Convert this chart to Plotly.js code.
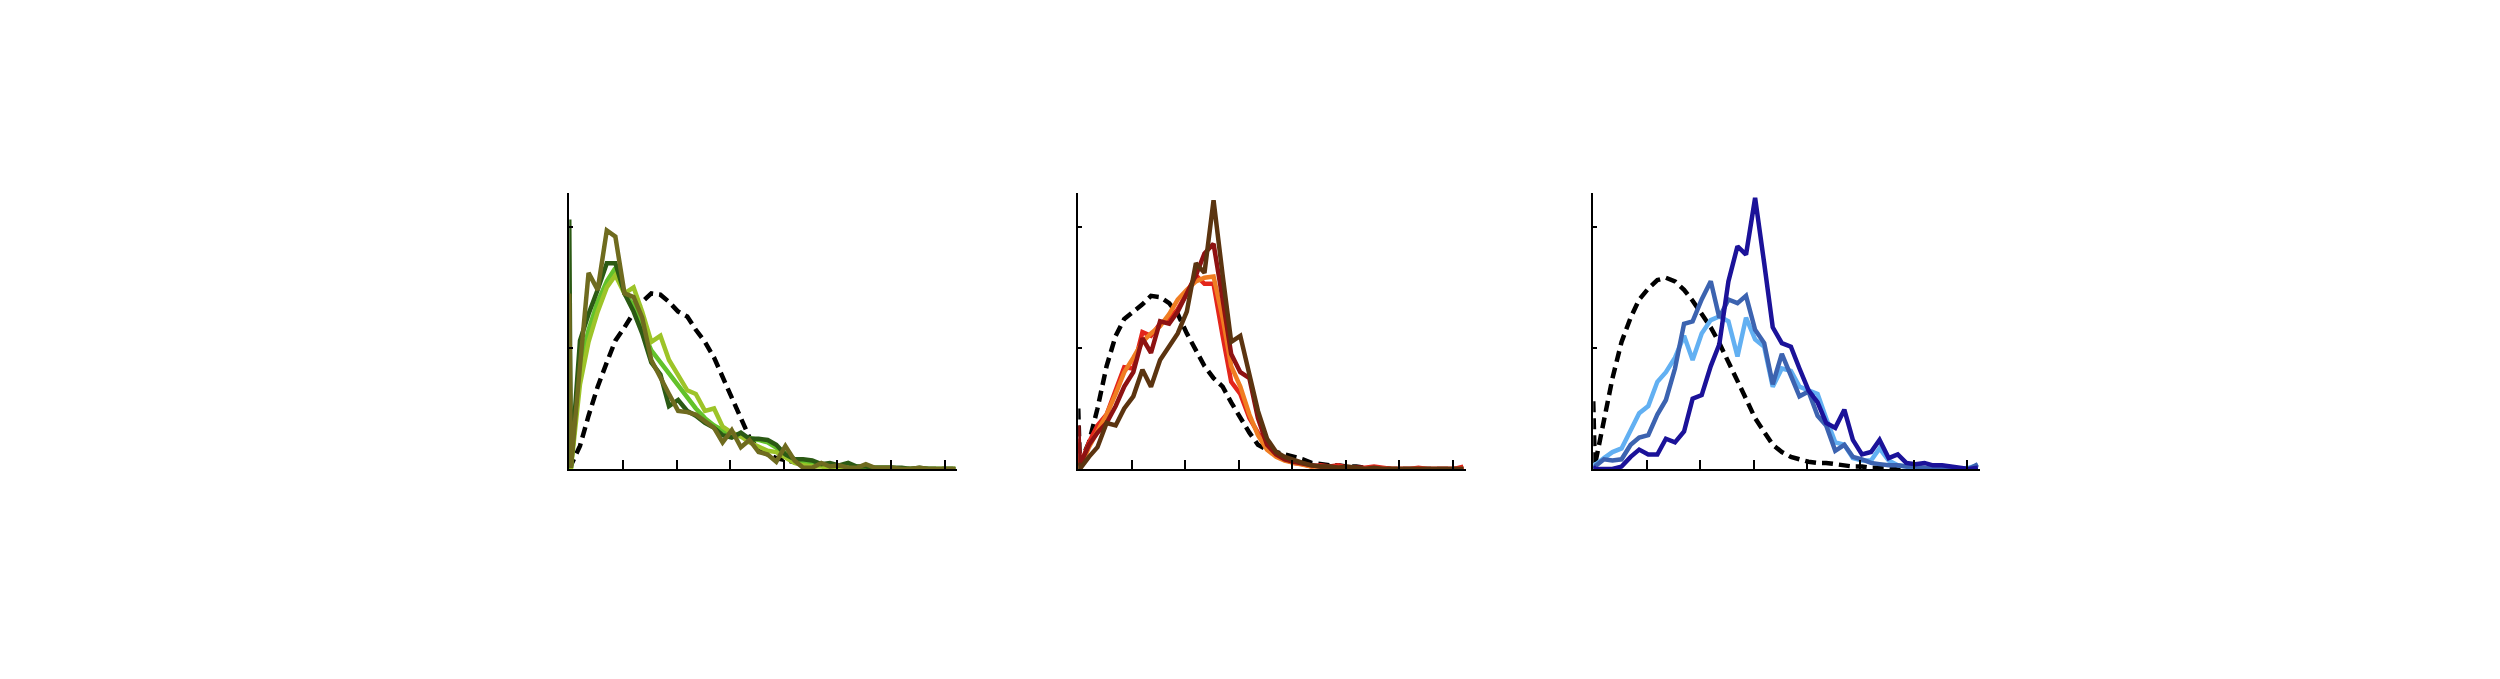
<!DOCTYPE html>
<html>
<head>
<meta charset="utf-8">
<script src="https://cdn.plot.ly/plotly-3.0.1.min.js"></script>
<style>
html,body{margin:0;padding:0;background:#fff;}
#chart{width:2500px;height:679px;}
</style>
</head>
<body>
<div id="chart"></div>
<script>
// Bin positions (shared by all panels), in tick units
const xBins = [0, 0.03, 0.20, 0.36, 0.53, 0.70, 0.86, 1.03, 1.20, 1.36, 1.53, 1.70, 1.86, 2.03, 2.20, 2.36, 2.53, 2.70, 2.86, 3.03, 3.20, 3.36, 3.53, 3.70, 3.86, 4.03, 4.20, 4.36, 4.53, 4.70, 4.86, 5.03, 5.20, 5.36, 5.53, 5.70, 5.86, 6.03, 6.20, 6.36, 6.53, 6.70, 6.86, 7.03, 7.20];

// Panel 1 (greens)
const p1Reference = [0.0, 0.03, 0.19, 0.44, 0.68, 0.88, 1.06, 1.17, 1.29, 1.38, 1.45, 1.44, 1.38, 1.30, 1.26, 1.15, 1.05, 0.92, 0.76, 0.61, 0.42, 0.26, 0.17, 0.12, 0.09, 0.07, 0.05, 0.04, 0.03, 0.02, 0.02, 0.01, 0.01, 0, 0, 0, 0, 0, 0, 0, 0, 0, 0, 0, 0];
const p1BrightGreen = [1.0, 0.0, 0.85, 1.15, 1.38, 1.55, 1.66, 1.45, 1.35, 1.15, 0.98, 0.88, 0.78, 0.68, 0.58, 0.50, 0.42, 0.36, 0.32, 0.28, 0.27, 0.26, 0.24, 0.22, 0.18, 0.13, 0.08, 0.05, 0.04, 0.03, 0.03, 0.02, 0.02, 0.02, 0.01, 0.01, 0.01, 0.01, 0, 0, 0, 0, 0, 0, 0];
const p1YellowGreen = [0.8, 0.0, 0.70, 1.05, 1.30, 1.50, 1.60, 1.45, 1.50, 1.30, 1.05, 1.10, 0.90, 0.78, 0.65, 0.62, 0.48, 0.50, 0.35, 0.30, 0.27, 0.22, 0.18, 0.15, 0.14, 0.10, 0.05, 0.03, 0.02, 0.02, 0.01, 0.02, 0.01, 0.01, 0.01, 0, 0, 0, 0, 0, 0, 0, 0, 0, 0];
const p1DarkGreen = [2.06, 0.01, 1.06, 1.28, 1.48, 1.70, 1.70, 1.45, 1.30, 1.12, 0.88, 0.78, 0.52, 0.57, 0.48, 0.44, 0.38, 0.34, 0.28, 0.26, 0.30, 0.25, 0.25, 0.24, 0.20, 0.12, 0.08, 0.08, 0.07, 0.04, 0.05, 0.03, 0.05, 0.02, 0.02, 0.01, 0.01, 0.01, 0.01, 0.00, 0.01, 0, 0, 0, 0];
const p1Olive = [1.45, 0.01, 0.85, 1.62, 1.48, 1.97, 1.92, 1.45, 1.42, 1.25, 0.90, 0.75, 0.62, 0.48, 0.47, 0.45, 0.40, 0.34, 0.22, 0.32, 0.18, 0.24, 0.14, 0.12, 0.06, 0.19, 0.07, 0.01, 0.01, 0.05, 0.02, 0.03, 0.01, 0.01, 0.04, 0.01, 0.01, 0.01, 0, 0, 0.01, 0, 0, 0, 0];

// Panel 2 (reds)
const p2Reference = [0.50, 0.05, 0.22, 0.50, 0.85, 1.10, 1.24, 1.30, 1.36, 1.43, 1.42, 1.37, 1.28, 1.12, 0.98, 0.85, 0.75, 0.68, 0.55, 0.42, 0.30, 0.20, 0.16, 0.14, 0.12, 0.10, 0.08, 0.05, 0.04, 0.03, 0.03, 0.02, 0.02, 0.01, 0.01, 0.01, 0, 0, 0, 0, 0, 0, 0, 0, 0];
const p2Red = [0.25, 0.02, 0.22, 0.36, 0.45, 0.65, 0.84, 0.83, 1.13, 1.10, 1.20, 1.24, 1.32, 1.45, 1.60, 1.53, 1.53, 1.10, 0.72, 0.62, 0.42, 0.30, 0.18, 0.12, 0.08, 0.05, 0.04, 0.02, 0.03, 0.02, 0.03, 0.01, 0.01, 0.01, 0.02, 0.01, 0, 0, 0, 0.01, 0, 0, 0, 0, 0.02];
const p2Orange = [0.10, 0.0, 0.18, 0.32, 0.45, 0.62, 0.80, 0.92, 1.05, 1.12, 1.18, 1.28, 1.40, 1.48, 1.55, 1.58, 1.59, 1.25, 0.85, 0.68, 0.45, 0.28, 0.16, 0.10, 0.07, 0.05, 0.03, 0.02, 0.02, 0.01, 0.01, 0.01, 0, 0, 0, 0, 0, 0, 0, 0, 0, 0, 0, 0, 0];
const p2DarkRed = [0.36, 0.03, 0.20, 0.30, 0.38, 0.52, 0.68, 0.80, 1.08, 0.96, 1.22, 1.20, 1.30, 1.45, 1.60, 1.78, 1.86, 1.40, 0.95, 0.80, 0.75, 0.42, 0.20, 0.12, 0.08, 0.06, 0.04, 0.03, 0.02, 0.02, 0.01, 0.01, 0.01, 0, 0, 0, 0, 0, 0, 0, 0, 0, 0, 0, 0];
const p2Brown = [0.05, 0.0, 0.10, 0.18, 0.38, 0.36, 0.50, 0.60, 0.82, 0.68, 0.90, 1.02, 1.12, 1.30, 1.70, 1.62, 2.22, 1.60, 1.05, 1.10, 0.78, 0.48, 0.25, 0.14, 0.10, 0.07, 0.05, 0.03, 0.02, 0.02, 0.01, 0.02, 0.01, 0, 0.01, 0, 0, 0, 0, 0, 0, 0, 0, 0, 0];

// Panel 3 (blues)
const p3Reference = [0.56, 0.03, 0.40, 0.75, 1.05, 1.25, 1.40, 1.49, 1.56, 1.58, 1.55, 1.48, 1.39, 1.28, 1.17, 1.04, 0.89, 0.74, 0.58, 0.42, 0.30, 0.20, 0.14, 0.10, 0.08, 0.06, 0.05, 0.05, 0.04, 0.03, 0.02, 0.02, 0.01, 0.01, 0.01, 0, 0, 0, 0, 0, 0, 0, 0, 0, 0];
const p3LightBlue = [0.05, 0.03, 0.09, 0.14, 0.17, 0.32, 0.46, 0.52, 0.72, 0.80, 0.92, 1.10, 0.90, 1.12, 1.23, 1.26, 1.22, 0.93, 1.25, 1.07, 1.01, 0.68, 0.83, 0.81, 0.68, 0.65, 0.62, 0.42, 0.22, 0.20, 0.09, 0.07, 0.07, 0.17, 0.07, 0.03, 0.02, 0.01, 0, 0, 0, 0, 0, 0.01, 0.03];
const p3MidBlue = [0.03, 0.02, 0.08, 0.07, 0.08, 0.20, 0.26, 0.28, 0.45, 0.57, 0.83, 1.20, 1.22, 1.40, 1.55, 1.25, 1.40, 1.37, 1.43, 1.15, 1.04, 0.70, 0.95, 0.78, 0.60, 0.64, 0.44, 0.36, 0.15, 0.20, 0.10, 0.08, 0.05, 0.04, 0.03, 0.03, 0.02, 0.02, 0.01, 0.01, 0.01, 0, 0, 0, 0.04];
const p3Navy = [0.02, 0.0, 0.0, 0.0, 0.02, 0.10, 0.16, 0.12, 0.12, 0.25, 0.22, 0.31, 0.58, 0.61, 0.85, 1.03, 1.55, 1.84, 1.77, 2.24, 1.70, 1.17, 1.04, 1.01, 0.83, 0.65, 0.55, 0.38, 0.34, 0.49, 0.24, 0.12, 0.14, 0.24, 0.09, 0.12, 0.05, 0.04, 0.05, 0.03, 0.03, 0.02, 0.01, 0, 0.01];

function line(y, color, ax, dashed) {
  return {
    type: 'scatter', mode: 'lines', x: xBins, y: y,
    xaxis: 'x' + ax, yaxis: 'y' + ax,
    line: dashed ? {color: '#000', width: 4.5, dash: '11px,6px'} : {color: color, width: 4.5},
    hoverinfo: 'skip', showlegend: false
  };
}

const data = [
  line(p1Reference, '#000', '', true),
  line(p1BrightGreen, '#63c22b', ''),
  line(p1YellowGreen, '#9dc428', ''),
  line(p1DarkGreen, '#2b5a14', ''),
  line(p1Olive, '#6f6b1f', ''),
  line(p2Reference, '#000', '2', true),
  line(p2Red, '#e3261b', '2'),
  line(p2Orange, '#f07d22', '2'),
  line(p2DarkRed, '#8e1212', '2'),
  line(p2Brown, '#5b3410', '2'),
  line(p3Reference, '#000', '3', true),
  line(p3LightBlue, '#62b0f2', '3'),
  line(p3MidBlue, '#3c63b0', '3'),
  line(p3Navy, '#1b1299', '3')
];

function xa(domain, range) {
  return {domain: domain, range: range, showline: true, linecolor: '#000', linewidth: 2,
    ticks: 'inside', ticklen: 9, tickwidth: 2, tickcolor: '#000', tick0: 0, dtick: 1,
    showticklabels: false, showgrid: false, zeroline: false, fixedrange: true};
}
function ya(domain, anchor) {
  return {domain: domain, range: [0, 2.28], anchor: anchor, showline: true, linecolor: '#000', linewidth: 2,
    ticks: 'inside', ticklen: 4, tickwidth: 2, tickcolor: '#000', tick0: 0, dtick: 1,
    showticklabels: false, showgrid: false, zeroline: false, fixedrange: true};
}
const yDom = [0.3093, 0.7158];
const layout = {
  width: 2500, height: 679,
  margin: {l: 0, r: 0, t: 0, b: 0},
  paper_bgcolor: '#fff', plot_bgcolor: 'rgba(0,0,0,0)',
  showlegend: false,
  xaxis: Object.assign(xa([0.2277, 0.3828], [0, 7.23]), {anchor: 'y'}),
  yaxis: ya(yDom, 'x'),
  xaxis2: Object.assign(xa([0.4313, 0.5864], [0, 7.25]), {anchor: 'y2'}),
  yaxis2: ya(yDom, 'x2'),
  xaxis3: Object.assign(xa([0.6373, 0.7920], [0, 7.24]), {anchor: 'y3'}),
  yaxis3: ya(yDom, 'x3')
};
Plotly.newPlot('chart', data, layout, {displayModeBar: false, staticPlot: true});
</script>
</body>
</html>
